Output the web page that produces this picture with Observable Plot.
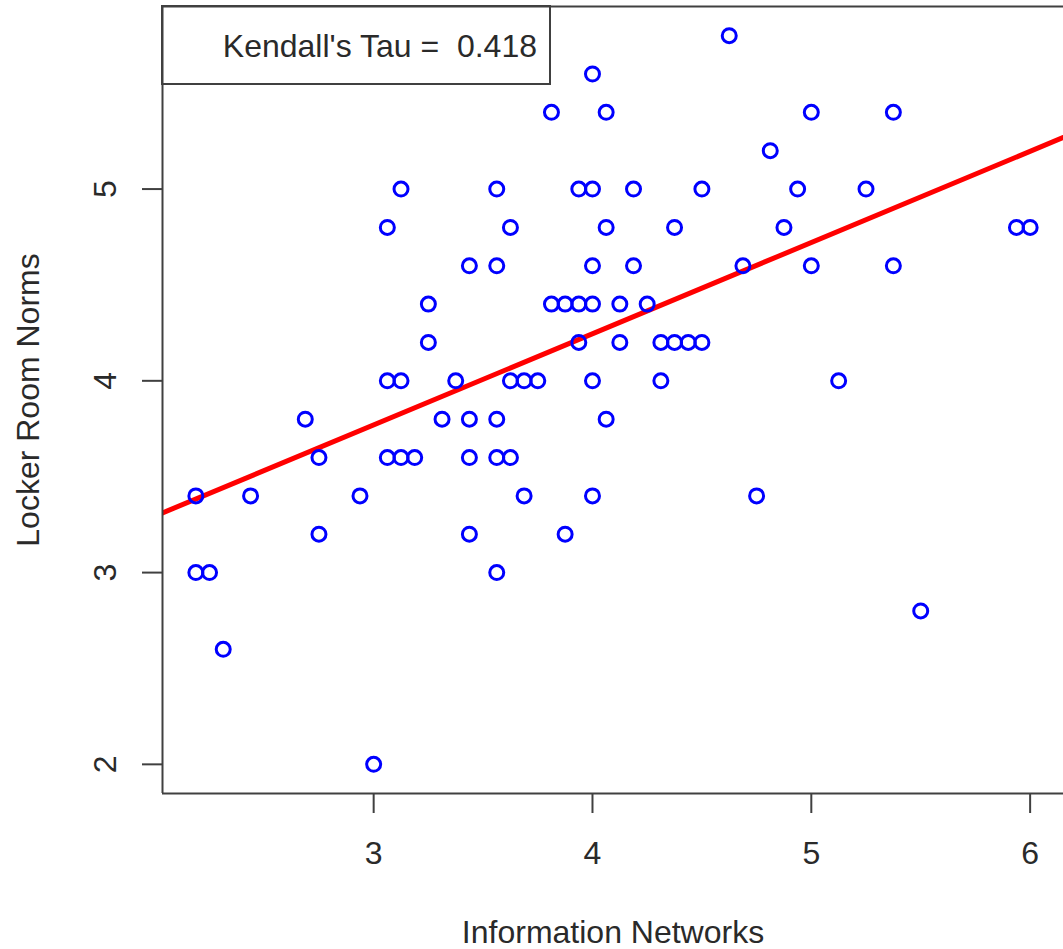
<!DOCTYPE html>
<html><head><meta charset="utf-8">
<script src="https://cdn.jsdelivr.net/npm/d3@7"></script>
<script src="https://cdn.jsdelivr.net/npm/@observablehq/plot@0.6"></script>
<style>
html,body{margin:0;padding:0;background:#fff;overflow:hidden}
#chart svg{display:block}
</style></head><body><div id="chart"></div>
<script>
// Information Networks (x) and Locker Room Norms (y), one entry per respondent
const infoNetworks = [
  4.625,
  4.0,
  3.8125, 4.0625, 5.0, 5.375,
  4.8125,
  3.125, 3.5625, 3.9375, 4.0, 4.1875, 4.5, 4.9375, 5.25,
  3.0625, 3.625, 4.0625, 4.375, 4.875, 5.9375, 6.0,
  3.4375, 3.5625, 4.0, 4.1875, 4.6875, 5.0, 5.375,
  3.25, 3.8125, 3.875, 3.9375, 4.0, 4.125, 4.25,
  3.25, 3.9375, 4.125, 4.3125, 4.375, 4.4375, 4.5,
  3.0625, 3.125, 3.375, 3.625, 3.6875, 3.75, 4.0, 4.3125, 5.125,
  2.6875, 3.3125, 3.4375, 3.5625, 4.0625,
  2.75, 3.0625, 3.125, 3.1875, 3.4375, 3.5625, 3.625,
  2.1875, 2.4375, 2.9375, 3.6875, 4.0, 4.75,
  2.75, 3.4375, 3.875,
  2.1875, 2.25, 3.5625,
  5.5,
  2.3125,
  3.0
];
const lockerRoomNorms = [
  5.8,
  5.6,
  5.4, 5.4, 5.4, 5.4,
  5.2,
  5.0, 5.0, 5.0, 5.0, 5.0, 5.0, 5.0, 5.0,
  4.8, 4.8, 4.8, 4.8, 4.8, 4.8, 4.8,
  4.6, 4.6, 4.6, 4.6, 4.6, 4.6, 4.6,
  4.4, 4.4, 4.4, 4.4, 4.4, 4.4, 4.4,
  4.2, 4.2, 4.2, 4.2, 4.2, 4.2, 4.2,
  4.0, 4.0, 4.0, 4.0, 4.0, 4.0, 4.0, 4.0, 4.0,
  3.8, 3.8, 3.8, 3.8, 3.8,
  3.6, 3.6, 3.6, 3.6, 3.6, 3.6, 3.6,
  3.4, 3.4, 3.4, 3.4, 3.4, 3.4,
  3.2, 3.2, 3.2,
  3.0, 3.0, 3.0,
  2.8,
  2.6,
  2.0
];
const xTicks = [3, 4, 5, 6];
const yTicks = [2, 3, 4, 5];
const tauLabel = "Kendall's Tau =  0.418";
const xTitle = "Information Networks";
const yTitle = "Locker Room Norms";

const points = infoNetworks.map((x, i) => ({x, y: lockerRoomNorms[i]}));
// R-style axis limits: data range padded by 4% on each side
function rLim(v) { const [a, b] = d3.extent(v); const p = (b - a) * 0.04; return [a - p, b + p]; }
const xDom = rLim(infoNetworks), yDom = rLim(lockerRoomNorms);
// least-squares fit line (abline of lm)
const mx = d3.mean(infoNetworks), my = d3.mean(lockerRoomNorms);
const slope = d3.sum(points, d => (d.x - mx) * (d.y - my)) / d3.sum(points, d => (d.x - mx) ** 2);
const intercept = my - slope * mx;
const fit = xDom.map(x => ({x, y: intercept + slope * x}));

const font = "'Liberation Sans', Arial, sans-serif";
const ink = "#2a2a2a";
const frameColor = "#404040";

const plot = Plot.plot({
  width: 1063, height: 949,
  marginLeft: 162, marginRight: 0, marginTop: 6, marginBottom: 156,
  style: {fontFamily: font, background: "#fff", overflow: "visible"},
  x: {domain: xDom},
  y: {domain: yDom},
  marks: [
    Plot.line(fit, {x: "x", y: "y", stroke: "red", strokeWidth: 5, clip: true}),
    Plot.dot(points, {x: "x", y: "y", r: 7, stroke: "blue", strokeWidth: 3, fill: "none"}),
    Plot.ruleX([xDom[0]], {stroke: frameColor, strokeWidth: 2}),
    Plot.ruleY([yDom[0], yDom[1]], {stroke: frameColor, strokeWidth: 2}),
    Plot.axisX({ticks: xTicks, tickSize: 20, tickPadding: 28, fontSize: 32, stroke: frameColor, strokeWidth: 2, fill: ink, label: null, tickFormat: d => String(d)}),
    Plot.axisY({ticks: yTicks, tickSize: 20, tickFormat: () => "", label: null, stroke: frameColor, strokeWidth: 2}),
    Plot.text(yTicks, {y: d => d, text: d => String(d), frameAnchor: "left", rotate: -90, dx: -47, lineAnchor: "bottom", textAnchor: "middle", fontSize: 32, fill: ink}),
    Plot.text([xTitle], {text: d => d, frameAnchor: "bottom", dy: 149, lineAnchor: "bottom", textAnchor: "middle", fontSize: 32, fill: ink}),
    Plot.text([yTitle], {text: d => d, frameAnchor: "left", rotate: -90, dx: -124, lineAnchor: "bottom", textAnchor: "middle", fontSize: 32, fill: ink})
  ]
});

// legend box (top-left, like R's legend("topleft"))
const svg = d3.select(plot);
const lg = svg.append("g");
lg.append("rect").attr("x", 162).attr("y", 6).attr("width", 388).attr("height", 78)
  .attr("fill", "none").attr("stroke", frameColor).attr("stroke-width", 2);
lg.append("text").attr("x", 537).attr("y", 57).attr("text-anchor", "end")
  .attr("font-family", font).attr("font-size", 32).attr("fill", ink).style("white-space", "pre")
  .text(tauLabel);

document.getElementById("chart").appendChild(plot);
</script></body></html>
